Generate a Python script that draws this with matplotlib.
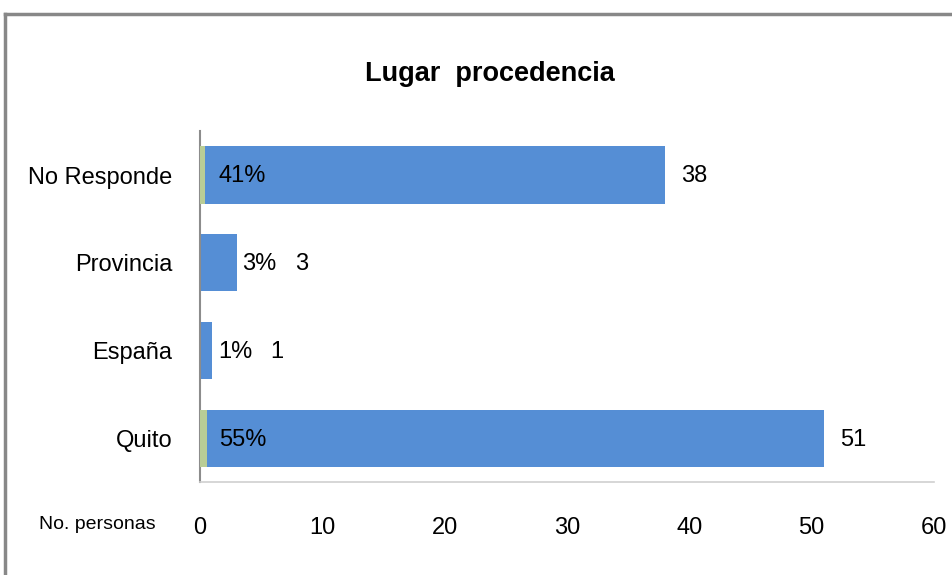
import matplotlib.pyplot as plt
from matplotlib.lines import Line2D

# ==========================================
# DATA
# ==========================================

categorias = ["Quito", "España", "Provincia", "No Responde"]
personas = [51, 1, 3, 38]
porcentaje = [0.55, 0.01, 0.03, 0.41]
etiquetas_pct = ["55%", "1%", "3%", "41%"]
ticks_x = [0, 10, 20, 30, 40, 50, 60]

plt.rcParams["font.family"] = ["Liberation Sans", "DejaVu Sans"]

azul = "#558ED5"
verde = "#B9CD96"

# ==========================================
# FIGURE
# ==========================================

fig = plt.figure(figsize=(9.52, 5.75), dpi=100)
ax = fig.add_axes([0.210, 0.161, 0.771, 0.611])

y = range(len(categorias))
ax.barh(y, personas, height=0.65, color=azul, zorder=2)
ax.barh(y, porcentaje, height=0.65, color=verde, zorder=3)

fs = 17
for i in y:
    n = personas[i]
    fin = n + porcentaje[i]
    if n < 5:
        ax.annotate(etiquetas_pct[i], (fin, i), xytext=(4, -1),
                    textcoords="offset points", va="center", ha="left", fontsize=fs)
        ax.annotate(str(n), (fin, i), xytext=(42, -1),
                    textcoords="offset points", va="center", ha="left", fontsize=fs)
    else:
        ax.annotate(etiquetas_pct[i], (1.55, i), xytext=(0, -1),
                    textcoords="offset points", va="center", ha="left", fontsize=fs)
        ax.annotate(str(n), (n, i), xytext=(11.5, -1),
                    textcoords="offset points", va="center", ha="left", fontsize=fs)

ax.set_xlim(0, 60)
ax.set_ylim(-0.5, 3.5)
ax.set_xticks(ticks_x)
ax.set_yticks(list(y))
ax.set_yticklabels(categorias)
ax.tick_params(axis="x", length=0, pad=25, labelsize=fs)
ax.tick_params(axis="y", length=0, pad=20, labelsize=fs)

for s in ["top", "right"]:
    ax.spines[s].set_visible(False)
ax.spines["left"].set_color("#8C8C8C")
ax.spines["left"].set_linewidth(1.5)
ax.spines["bottom"].set_color("#D0D0D0")
ax.spines["bottom"].set_linewidth(1.2)

fig.text(0.515, 0.872, "Lugar  procedencia", ha="center", va="center",
         fontsize=19.5, fontweight="bold")
fig.text(0.102, 0.088, "No. personas", ha="center", va="center", fontsize=14)

# outer frame (top and left edges visible)
fig.add_artist(Line2D([5 / 952, 1.0], [1 - 14 / 575, 1 - 14 / 575],
                      transform=fig.transFigure, color="#888888", lw=2.5))
fig.add_artist(Line2D([5 / 952, 5 / 952], [0.0, 1 - 14 / 575],
                      transform=fig.transFigure, color="#888888", lw=2.5))

fig.savefig("out.png", dpi=100)
